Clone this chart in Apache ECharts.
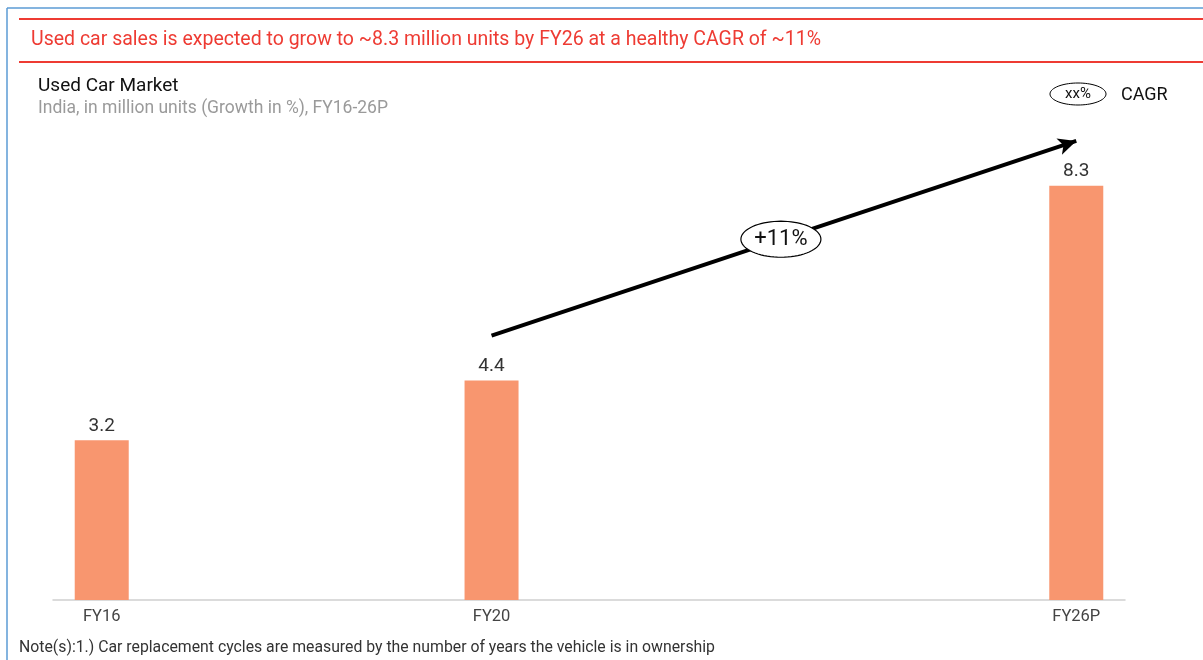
<!DOCTYPE html>
<html>
<head>
<meta charset="utf-8">
<script src="https://cdn.jsdelivr.net/npm/echarts@6/dist/echarts.min.js"></script>
<style>
  html, body { margin: 0; padding: 0; background: #fff; }
  #chart { width: 1203px; height: 660px; }
</style>
</head>
<body>
<div id="chart"></div>
<script>
// data
const years = ['FY16', 'FY20', 'FY26P']
const sales = [3.2, 4.4, 8.3]
const axisYears = ['FY16', 'FY17', 'FY18', 'FY19', 'FY20', 'FY21', 'FY22', 'FY23', 'FY24', 'FY25', 'FY26P']
const cagrText = '+11%'
const cagrFrom = ['FY20', 5.3]
const cagrTo = ['FY26P', 9.2]

const barData = axisYears.map(function (c) {
  const i = years.indexOf(c)
  return i >= 0 ? sales[i] : null
})

const font = 'Roboto, "Liberation Sans", sans-serif'
const red = '#EE3B33'

function ellipsePoints(cx, cy, rx, ry) {
  const pts = []
  for (let i = 0; i < 72; i++) {
    const a = i / 72 * Math.PI * 2
    pts.push([cx + rx * Math.cos(a), cy + ry * Math.sin(a)])
  }
  return pts
}

const chart = echarts.init(document.getElementById('chart'))

const option = {
  animation: false,
  backgroundColor: '#fff',
  textStyle: { fontFamily: font },
  title: [
    {
      text: 'Used car sales is expected to grow to ~8.3 million units by FY26 at a healthy CAGR of ~11%',
      left: 26, top: 25,
      textStyle: { color: red, fontSize: 19.5, fontWeight: 'normal', fontFamily: font }
    },
    {
      text: 'Used Car Market',
      left: 33, top: 72,
      textStyle: { color: '#111', fontSize: 19, fontWeight: 'normal', fontFamily: font }
    },
    {
      text: 'India, in million units (Growth in %), FY16-26P',
      left: 33, top: 95,
      textStyle: { color: '#9a9a9a', fontSize: 17.5, fontWeight: 'normal', fontFamily: font }
    }
  ],
  grid: { left: 53, right: 78, top: 101, bottom: 60 },
  xAxis: {
    type: 'category',
    data: axisYears,
    axisTick: { show: false },
    axisLine: { lineStyle: { color: '#cfcfcf', width: 1.5 } },
    axisLabel: {
      interval: 0,
      margin: 8,
      color: '#444',
      fontSize: 16.5,
      fontFamily: font,
      formatter: function (v) { return years.indexOf(v) >= 0 ? v : '' }
    }
  },
  yAxis: {
    type: 'value',
    min: 0,
    max: 10,
    show: false,
    splitLine: { show: false }
  },
  series: [
    {
      type: 'bar',
      data: barData,
      barWidth: 54,
      itemStyle: { color: '#F8966F' },
      label: {
        show: true,
        position: 'top',
        distance: 5,
        color: '#333',
        fontSize: 19,
        fontFamily: font
      },
      markLine: {
        silent: true,
        symbol: ['none', 'arrow'],
        symbolSize: [13, 18],
        label: { show: false },
        lineStyle: { color: '#000', width: 4, type: 'solid' },
        data: [[{ coord: cagrFrom }, { coord: cagrTo }]]
      }
    }
  ]
}

chart.setOption(option)

const p1 = chart.convertToPixel({ gridIndex: 0 }, [axisYears.indexOf(cagrFrom[0]), cagrFrom[1]])
const p2 = chart.convertToPixel({ gridIndex: 0 }, [axisYears.indexOf(cagrTo[0]), cagrTo[1]])
const mx = (p1[0] + p2[0]) / 2 - 3
const my = (p1[1] + p2[1]) / 2 + 1

chart.setOption({
  graphic: [
    // blue frame
    { type: 'line', z: 100, shape: { x1: 7, y1: 8, x2: 1203, y2: 8 }, style: { stroke: '#5B9BD5', lineWidth: 1.5 } },
    { type: 'line', z: 100, shape: { x1: 7, y1: 8, x2: 7, y2: 660 }, style: { stroke: '#5B9BD5', lineWidth: 1.5 } },
    // red header lines
    { type: 'line', z: 100, shape: { x1: 19, y1: 19, x2: 1203, y2: 19 }, style: { stroke: red, lineWidth: 2 } },
    { type: 'line', z: 100, shape: { x1: 19, y1: 62, x2: 1203, y2: 62 }, style: { stroke: red, lineWidth: 2 } },
    // CAGR bubble on the arrow
    { type: 'polygon', z: 100, shape: { points: ellipsePoints(mx, my, 40, 18) }, style: { fill: '#fff', stroke: '#000', lineWidth: 1.2 } },
    { type: 'text', z: 101, x: mx, y: my, style: { text: cagrText, fill: '#111', font: '22px ' + font, align: 'center', verticalAlign: 'middle' } },
    // legend
    { type: 'polygon', z: 100, shape: { points: ellipsePoints(1078, 94, 28, 11) }, style: { fill: '#fff', stroke: '#000', lineWidth: 1 } },
    { type: 'text', z: 101, x: 1078, y: 94, style: { text: 'xx%', fill: '#111', font: '15px ' + font, align: 'center', verticalAlign: 'middle' } },
    { type: 'text', z: 101, x: 1121, y: 95, style: { text: 'CAGR', fill: '#111', font: '18px ' + font, align: 'left', verticalAlign: 'middle' } },
    // footnote
    { type: 'text', z: 101, x: 19, y: 648, style: { text: 'Note(s):1.) Car replacement cycles are measured by the number of years the vehicle is in ownership', fill: '#333', font: '15.8px ' + font, align: 'left', verticalAlign: 'middle' } }
  ]
})
</script>
</body>
</html>
